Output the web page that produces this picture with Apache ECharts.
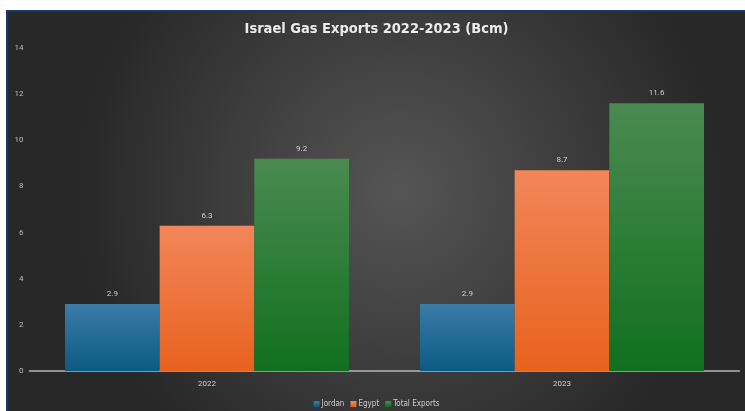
<!DOCTYPE html>
<html><head><meta charset="utf-8">
<script src="https://cdn.jsdelivr.net/npm/echarts@6/dist/echarts.min.js"></script>
<style>
html,body{margin:0;padding:0;background:#fff;width:745px;height:411px;overflow:hidden}
#wrap{position:absolute;left:6px;top:10px;border-top:2px solid #16386e;border-left:2px solid #16386e}
#c{width:737px;height:399px}
</style></head>
<body><div id="wrap"><div id="c"></div></div>
<script>
const categories = ['2022', '2023'];
const jordan = [2.9, 2.9];
const egypt = [6.3, 8.7];
const totalExports = [9.2, 11.6];
const seriesNames = ['Jordan', 'Egypt', 'Total Exports'];

function grad(top, bottom) {
  return {type:'linear', x:0, y:0, x2:0, y2:1, colorStops:[{offset:0,color:top},{offset:1,color:bottom}]};
}
const colors = [grad('#3b7ca8','#0b5a82'), grad('#f2865a','#e8621e'), grad('#4a8a50','#11701f')];
const chart = echarts.init(document.getElementById('c'));
const label = {show:true, position:'top', color:'#cfcfcf', fontSize:8, distance:6, fontFamily:'Roboto, sans-serif'};
chart.setOption({
  backgroundColor: {type:'radial', x:0.53, y:0.45, r:0.8, colorStops:[{offset:0,color:'#555555'},{offset:1,color:'#282828'}]},
  title: {text:'Israel Gas Exports 2022-2023 (Bcm)', left:'center', top:5,
    textStyle:{color:'#ececec', fontSize:14.5, fontWeight:'bold', fontFamily:'"DejaVu Sans Condensed", "Liberation Sans Narrow", sans-serif'}},
  legend: {bottom:-2, left:'center', itemWidth:6, itemHeight:6, itemGap:6, icon:'rect',
    textStyle:{color:'#cfcfcf', fontSize:8, padding:[0,0,0,-3], fontFamily:'"DejaVu Sans Condensed", Roboto, sans-serif'}, data:seriesNames},
  grid: {left:21.5, right:5.5, top:36, bottom:40},
  xAxis: {type:'category', data:categories,
    axisLine:{lineStyle:{color:'#b5b5b5', width:1.5}}, axisTick:{show:false},
    axisLabel:{color:'#cfcfcf', fontSize:8, margin:9, fontFamily:'Roboto, sans-serif'}},
  yAxis: {type:'value', min:0, max:14, interval:2,
    splitLine:{show:false}, axisLine:{show:false}, axisTick:{show:false},
    axisLabel:{color:'#bdbdbd', fontSize:8, margin:6, fontFamily:'Roboto, sans-serif'}},
  series: [
    {name:seriesNames[0], type:'bar', data:jordan, barGap:'0%', barCategoryGap:'20%', itemStyle:{color:colors[0]}, label},
    {name:seriesNames[1], type:'bar', data:egypt, itemStyle:{color:colors[1]}, label},
    {name:seriesNames[2], type:'bar', data:totalExports, itemStyle:{color:colors[2]}, label}
  ]
});
</script></body></html>
